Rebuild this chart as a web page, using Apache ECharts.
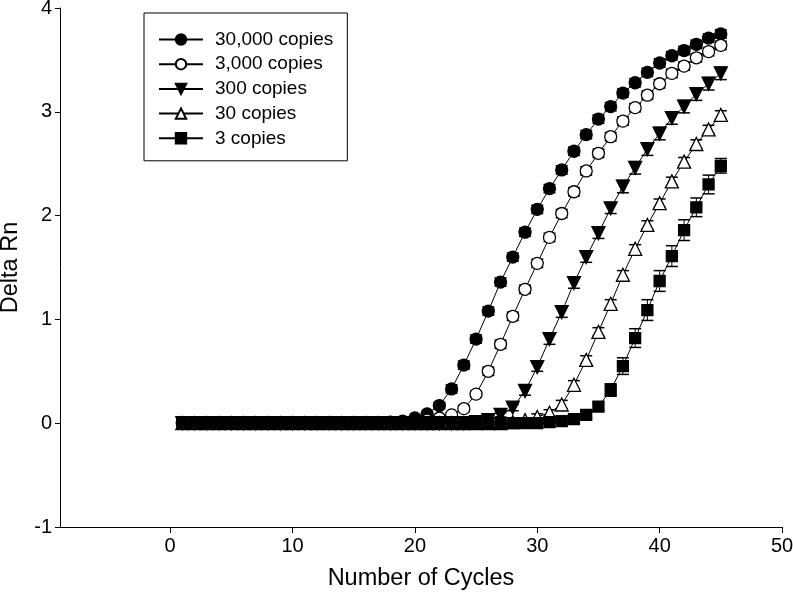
<!DOCTYPE html>
<html><head><meta charset="utf-8">
<script src="https://cdn.jsdelivr.net/npm/echarts@6/dist/echarts.min.js"></script>
<style>html,body{margin:0;padding:0;background:#fff}#c{width:793px;height:596px}</style>
</head><body><div id="c"></div>
<script>
const cycles = [1,2,3,4,5,6,7,8,9,10,11,12,13,14,15,16,17,18,19,20,21,22,23,24,25,26,27,28,29,30,31,32,33,34,35,36,37,38,39,40,41,42,43,44,45];
const seriesNames = ['30,000 copies','3,000 copies','300 copies','30 copies','3 copies'];
const xTicks = [0,10,20,30,40,50];
const xTitle = 'Number of Cycles';
const yTitle = 'Delta Rn';

const s30000 = [0,0,0,0,0,0,0,0,0,0,0,0,0,0,0,0,0,0.01,0.02,0.05,0.09,0.17,0.33,0.56,0.81,1.08,1.36,1.60,1.84,2.06,2.26,2.44,2.62,2.78,2.93,3.05,3.18,3.28,3.38,3.47,3.54,3.59,3.65,3.71,3.75];
const s3000  = [0,0,0,0,0,0,0,0,0,0,0,0,0,0,0,0,0,0,0,0.01,0.03,0.05,0.08,0.14,0.28,0.50,0.76,1.03,1.29,1.54,1.79,2.02,2.23,2.43,2.60,2.76,2.91,3.04,3.16,3.27,3.37,3.44,3.52,3.58,3.64];
const s300   = [0,0,0,0,0,0,0,0,0,0,0,0,0,0,0,0,0,0,0,0,0,0,0,0,0.01,0.03,0.08,0.15,0.31,0.54,0.81,1.07,1.35,1.60,1.83,2.07,2.28,2.46,2.64,2.79,2.94,3.05,3.17,3.27,3.37];
const s30    = [0,0,0,0,0,0,0,0,0,0,0,0,0,0,0,0,0,0,0,0,0,0,0,0,0,0,0,0.01,0.03,0.06,0.10,0.18,0.37,0.61,0.88,1.15,1.43,1.68,1.91,2.12,2.33,2.52,2.69,2.83,2.97];
const s3     = [0,0,0,0,0,0,0,0,0,0,0,0,0,0,0,0,0,0,0,0,0,0,0,0,0,0,0,0,0,0,0.01,0.02,0.04,0.08,0.16,0.32,0.55,0.82,1.09,1.37,1.61,1.86,2.08,2.30,2.48];

const e30000 = [0.01,0.01,0.01,0.01,0.01,0.01,0.01,0.01,0.01,0.01,0.01,0.01,0.01,0.01,0.01,0.01,0.01,0.01,0.01,0.01,0.02,0.03,0.04,0.04,0.04,0.04,0.04,0.04,0.04,0.04,0.04,0.04,0.04,0.04,0.04,0.04,0.04,0.04,0.04,0.04,0.04,0.04,0.04,0.04,0.04];
const e3000  = [0.01,0.01,0.01,0.01,0.01,0.01,0.01,0.01,0.01,0.01,0.01,0.01,0.01,0.01,0.01,0.01,0.01,0.01,0.01,0.01,0.01,0.02,0.02,0.03,0.03,0.04,0.04,0.04,0.04,0.04,0.04,0.04,0.04,0.04,0.04,0.04,0.04,0.04,0.04,0.04,0.04,0.04,0.04,0.04,0.04];
const e300   = [0.01,0.01,0.01,0.01,0.01,0.01,0.01,0.01,0.01,0.01,0.01,0.01,0.01,0.01,0.01,0.01,0.01,0.01,0.01,0.01,0.01,0.01,0.01,0.01,0.01,0.02,0.02,0.03,0.04,0.04,0.05,0.05,0.05,0.05,0.05,0.05,0.06,0.06,0.06,0.06,0.06,0.06,0.06,0.06,0.06];
const e30    = [0.01,0.01,0.01,0.01,0.01,0.01,0.01,0.01,0.01,0.01,0.01,0.01,0.01,0.01,0.01,0.01,0.01,0.01,0.01,0.01,0.01,0.01,0.01,0.01,0.01,0.01,0.01,0.01,0.02,0.03,0.03,0.04,0.04,0.04,0.04,0.04,0.04,0.04,0.04,0.04,0.04,0.04,0.04,0.04,0.04];
const e3     = [0.01,0.01,0.01,0.01,0.01,0.01,0.01,0.01,0.01,0.01,0.01,0.01,0.01,0.01,0.01,0.01,0.01,0.01,0.01,0.01,0.01,0.01,0.01,0.01,0.01,0.01,0.01,0.01,0.01,0.01,0.01,0.02,0.02,0.03,0.04,0.06,0.08,0.09,0.10,0.10,0.10,0.10,0.09,0.09,0.07];

const FONT = 'Arial, "Liberation Sans", Helvetica, sans-serif';
const values = [s30000, s3000, s300, s30, s3];
const errors = [e30000, e3000, e300, e30, e3];
const styles = [
  {symbol:'circle', size:12, fill:'#000', rot:0},
  {symbol:'circle', size:12, fill:'#fff', rot:0},
  {symbol:'triangle', size:13, fill:'#000', rot:180},
  {symbol:'triangle', size:13, fill:'#fff', rot:0},
  {symbol:'rect', size:11, fill:'#000', rot:0}
];

const series = [];
values.forEach((vals, k) => {
  const errs = errors[k];
  series.push({
    type:'custom', name: seriesNames[k] + ' err', z: 1, silent: true,
    data: vals.map((v,i)=>[cycles[i], v - errs[i], v + errs[i]]),
    encode:{x:0, y:[1,2]},
    renderItem(params, api){
      const x = api.value(0);
      const pLo = api.coord([x, api.value(1)]);
      const pHi = api.coord([x, api.value(2)]);
      const w = 6;
      return {type:'group', children:[
        {type:'line', shape:{x1:pLo[0],y1:pLo[1],x2:pHi[0],y2:pHi[1]}, style:{stroke:'#000',lineWidth:1}},
        {type:'line', shape:{x1:pLo[0]-w,y1:pLo[1],x2:pLo[0]+w,y2:pLo[1]}, style:{stroke:'#000',lineWidth:1.5}},
        {type:'line', shape:{x1:pHi[0]-w,y1:pHi[1],x2:pHi[0]+w,y2:pHi[1]}, style:{stroke:'#000',lineWidth:1.5}}
      ]};
    }
  });
});
values.forEach((vals, k) => {
  const st = styles[k];
  series.push({
    type:'line', name: seriesNames[k], z: 2,
    data: vals.map((v,i)=>[cycles[i], v]),
    symbol: st.symbol, symbolSize: st.size, symbolRotate: st.rot, showAllSymbol: true,
    lineStyle:{color:'#000', width:1},
    itemStyle:{color: st.fill, borderColor:'#000', borderWidth:1.3, opacity:1},
    emphasis:{disabled:true}
  });
});

const chart = echarts.init(document.getElementById('c'), null, {renderer:'canvas'});
chart.setOption({
  animation:false,
  backgroundColor:'#fff',
  grid:{left:60, right:11, top:8, bottom:69, containLabel:false, outerBoundsMode:'none'},
  legend:{
    data: seriesNames, orient:'vertical', left:144, top:13,
    padding:[17,14,13,14], itemGap:5.7, itemWidth:44, itemHeight:13,
    borderColor:'#000', borderWidth:1, backgroundColor:'#fff',
    textStyle:{fontSize:19, fontFamily:FONT, color:'#000', lineHeight:19, padding:[0,0,0,7]},
    selectedMode:false
  },
  xAxis:{
    type:'value', min:-9, max:50,
    name:xTitle, nameLocation:'middle', nameGap:40,
    nameTextStyle:{fontSize:23.5, fontFamily:FONT, color:'#000'},
    axisLine:{show:true, onZero:false, lineStyle:{color:'#000', width:1}},
    axisTick:{show:true, length:6, customValues:xTicks, lineStyle:{color:'#000'}},
    axisLabel:{fontSize:20, fontFamily:FONT, color:'#000', margin:9, customValues:xTicks},
    splitLine:{show:false}
  },
  yAxis:{
    type:'value', min:-1, max:4, interval:1,
    name:yTitle, nameLocation:'middle', nameGap:37, nameRotate:90,
    nameTextStyle:{fontSize:23.5, fontFamily:FONT, color:'#000'},
    axisLine:{show:true, onZero:false, lineStyle:{color:'#000', width:1}},
    axisTick:{show:true, length:5, lineStyle:{color:'#000'}},
    axisLabel:{fontSize:20, fontFamily:FONT, color:'#000', margin:8},
    splitLine:{show:false}
  },
  series
});
</script>
</body></html>
